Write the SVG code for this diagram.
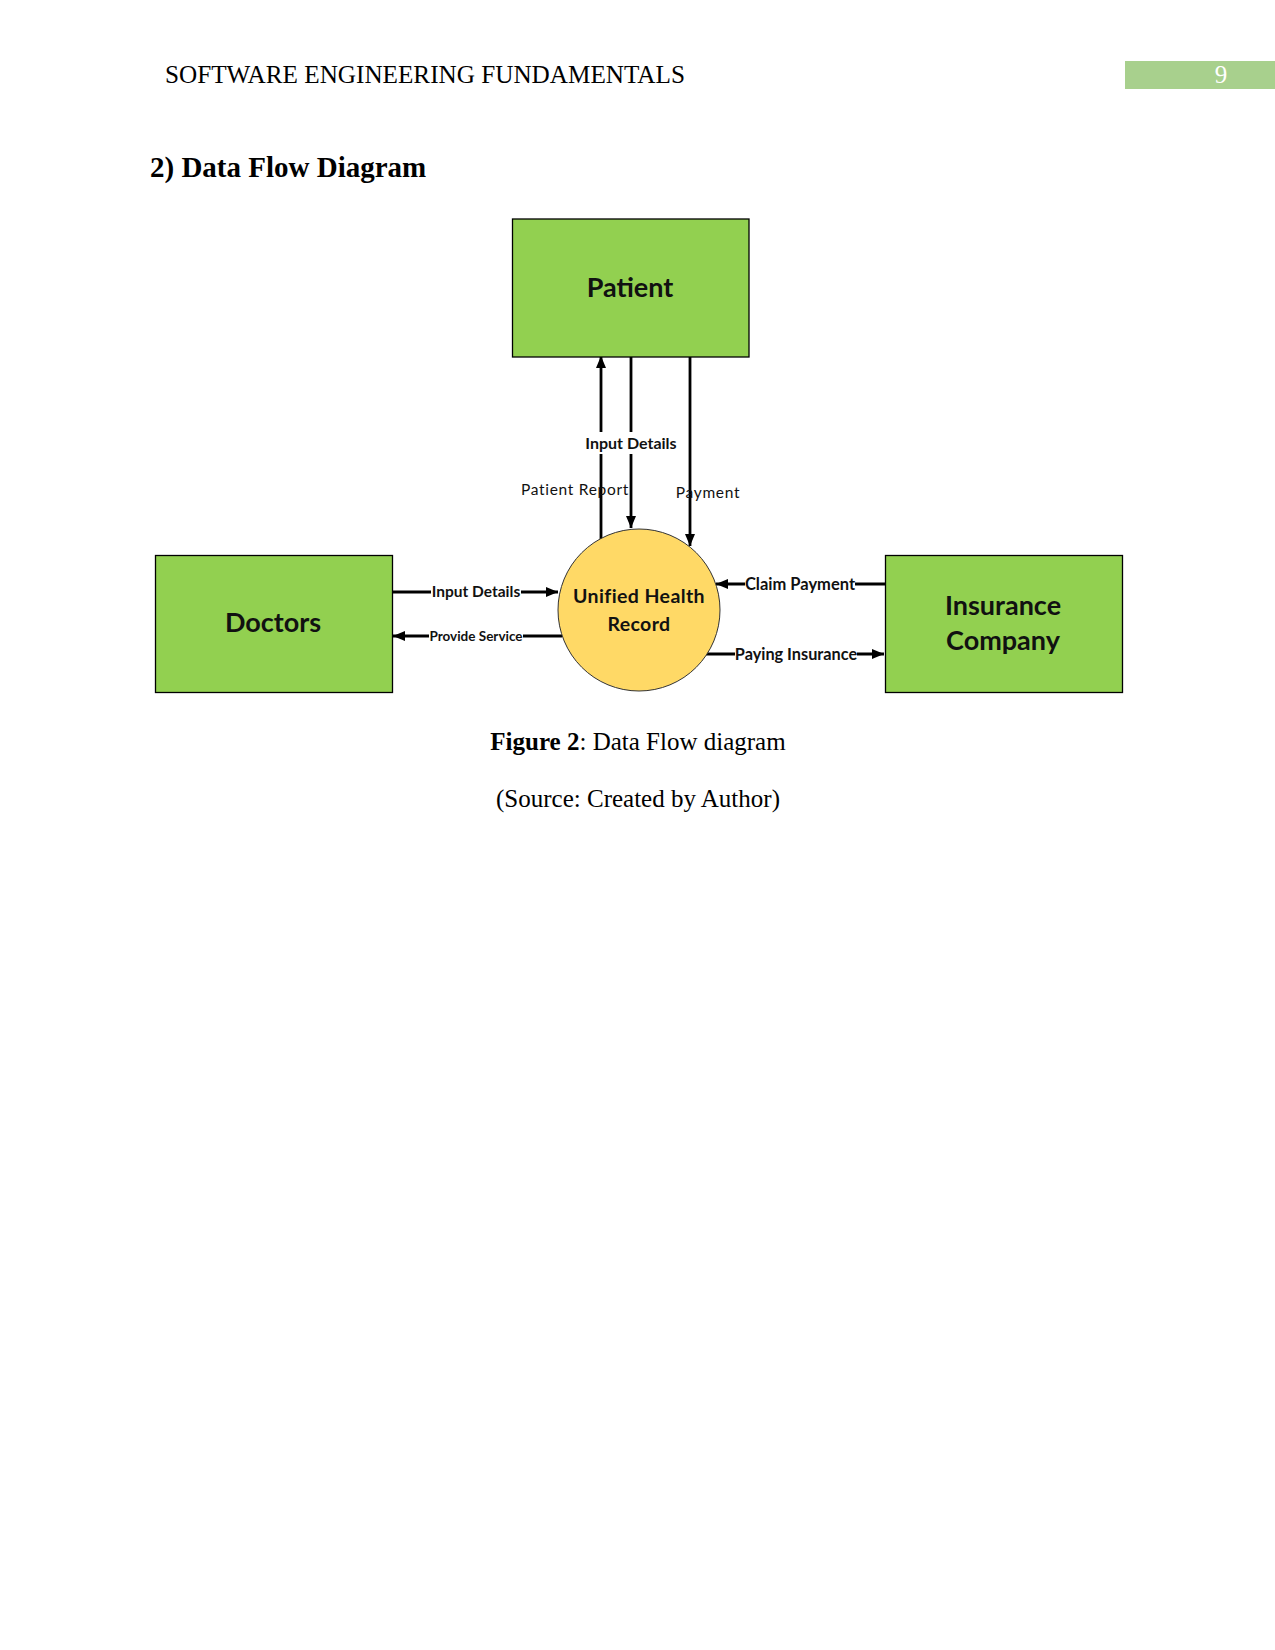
<svg xmlns="http://www.w3.org/2000/svg" width="1275" height="1650" viewBox="0 0 1275 1650">
<style>
.page{font-family:"Liberation Serif","Times New Roman",serif;fill:#000}
.ent{fill:#92d050;stroke:#000;stroke-width:1.3}
.proc{fill:#ffd966;stroke:#333;stroke-width:1}
.nt{font-family:Lato,"Open Sans",sans-serif;font-weight:bold;fill:#111;text-anchor:middle}
.flow{stroke:#000;stroke-width:2.8;fill:none}
.bg{fill:#fff}
.lbl{font-family:Lato,"Open Sans",sans-serif;font-weight:bold;fill:#111;text-anchor:middle}
.lbl2{font-family:Lato,"Open Sans",sans-serif;fill:#111;text-anchor:middle;letter-spacing:0.7px}
</style>
<defs>
<marker id="ah" viewBox="0 0 12 10" refX="12" refY="5" markerWidth="13" markerHeight="10" markerUnits="userSpaceOnUse" orient="auto">
<path d="M0,0 L12,5 L0,10 Z" fill="#000"/>
</marker>
</defs>
<rect width="1275" height="1650" fill="#fff"/>
<text class="page" x="165" y="83" font-size="25.2">SOFTWARE ENGINEERING FUNDAMENTALS</text>
<rect x="1125" y="61" width="150" height="28" fill="#a8d08d"/>
<text class="page" x="1221" y="83" font-size="25" style="fill:#fff" text-anchor="middle">9</text>
<text class="page" x="150" y="177" font-size="29" font-weight="bold">2) Data Flow Diagram</text>

<g id="connectors">
<line class="flow" x1="601" y1="541" x2="601" y2="356" marker-end="url(#ah)"/>
<line class="flow" x1="631" y1="357" x2="631" y2="528" marker-end="url(#ah)"/>
<line class="flow" x1="690" y1="357" x2="690" y2="546" marker-end="url(#ah)"/>
<line class="flow" x1="392" y1="592" x2="558" y2="592" marker-end="url(#ah)"/>
<line class="flow" x1="562" y1="636" x2="393" y2="636" marker-end="url(#ah)"/>
<line class="flow" x1="886" y1="584" x2="716" y2="584" marker-end="url(#ah)"/>
<line class="flow" x1="706" y1="654" x2="884" y2="654" marker-end="url(#ah)"/>
<rect class="bg" x="584" y="432" width="94" height="22"/>
<rect class="bg" x="431" y="582" width="90" height="20"/>
<rect class="bg" x="429" y="627" width="94" height="18"/>
<rect class="bg" x="745" y="574" width="110" height="20"/>
<rect class="bg" x="735" y="644" width="122" height="20"/>
<text class="lbl" x="631" y="449" font-size="16">Input Details</text>
<text class="lbl2" x="575" y="495" font-size="15.5">Patient Report</text>
<text class="lbl2" x="708" y="498" font-size="15.5">Payment</text>
<text class="lbl" x="476" y="597" font-size="15.5">Input Details</text>
<text class="lbl" x="476" y="641" font-size="13.5">Provide Service</text>
<text class="lbl" x="800" y="590" font-size="16.5">Claim Payment</text>
<text class="lbl" x="796" y="660" font-size="16.3">Paying Insurance</text>
</g>

<g id="patient">
<rect class="ent" x="512.5" y="219" width="236.5" height="138"/>
<text class="nt" x="630" y="297" font-size="27">Patient</text>
</g>
<g id="doctors">
<rect class="ent" x="155.5" y="555.5" width="237" height="137"/>
<text class="nt" x="273" y="632" font-size="27">Doctors</text>
</g>
<g id="insurance">
<rect class="ent" x="885.5" y="555.5" width="237" height="137"/>
<text class="nt" x="1003" y="615" font-size="27">Insurance</text>
<text class="nt" x="1003" y="650" font-size="27">Company</text>
</g>
<g id="uhr">
<circle class="proc" cx="639" cy="610" r="81"/>
<text class="nt" x="639" y="603" font-size="19.5" letter-spacing="0.4">Unified Health</text>
<text class="nt" x="639" y="631" font-size="19.5" letter-spacing="0.4">Record</text>
</g>

<text class="page" x="638" y="750" font-size="25" text-anchor="middle"><tspan font-weight="bold">Figure 2</tspan>: Data Flow diagram</text>
<text class="page" x="638" y="807" font-size="25" text-anchor="middle">(Source: Created by Author)</text>
</svg>
